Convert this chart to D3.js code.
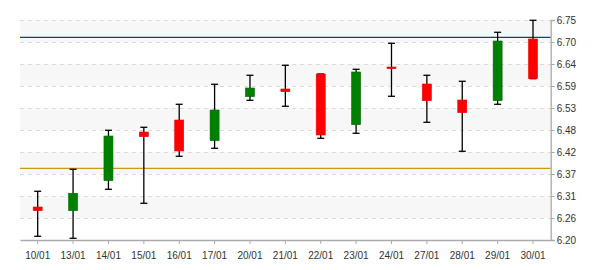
<!DOCTYPE html>
<html>
<head>
<meta charset="utf-8">
<script src="https://cdn.jsdelivr.net/npm/d3@7"></script>
<style>
html,body{margin:0;padding:0;background:#fff;}
svg{display:block;font-family:"Liberation Sans",Arial,sans-serif;}
</style>
</head>
<body>
<svg id="chart" width="600" height="270"></svg>
<script>
const dates = ["10/01","13/01","14/01","15/01","16/01","17/01","20/01","21/01","22/01","23/01","24/01","27/01","28/01","29/01","30/01"];
const openVals  = [6.2825,6.2733,6.3483,6.470,6.500,6.4483,6.5583,6.5775,6.615,6.4883,6.6325,6.590,6.550,6.5483,6.7025];
const highVals  = [6.3218,6.3768,6.4743,6.4818,6.5393,6.5893,6.6118,6.6368,6.615,6.6268,6.6918,6.6118,6.5968,6.7193,6.7493];
const lowVals   = [6.2093,6.2043,6.3268,6.2918,6.4093,6.4293,6.5493,6.5343,6.4543,6.4668,6.5593,6.4943,6.4218,6.5393,6.6033];
const closeVals = [6.2733,6.3168,6.4600,6.4583,6.4225,6.5250,6.5800,6.5708,6.4625,6.6200,6.6283,6.5483,6.5183,6.6975,6.6033];
const yTickValues = [6.20,6.255,6.31,6.365,6.42,6.475,6.53,6.585,6.64,6.695,6.75];
const yTickLabels = ["6.20","6.26","6.31","6.37","6.42","6.48","6.53","6.59","6.64","6.70","6.75"];
const refLines = [{value:6.7067,color:"#1a3b7c"},{value:6.3793,color:"#cc9a10"}];

const svg = d3.select("#chart");
const pLeft = 20, pRight = 550.7, pTop = 20, pBottom = 240;

const x = d3.scaleBand().domain(dates).range([pLeft, pRight]).padding(0);
const y = d3.scaleLinear().domain([6.20, 6.75]).range([pBottom, pTop]);

// alternating bands
const bands = svg.append("g");
for (let i = 0; i < yTickValues.length - 1; i++) {
  if (i % 2 === 1) {
    bands.append("rect")
      .attr("x", pLeft).attr("width", pRight - pLeft)
      .attr("y", y(yTickValues[i+1])).attr("height", y(yTickValues[i]) - y(yTickValues[i+1]))
      .attr("fill", "#f7f7f7");
  }
}

// grid lines
svg.append("g").selectAll("line").data(yTickValues.slice(1)).join("line")
  .attr("x1", pLeft).attr("x2", pRight)
  .attr("y1", d => Math.round(y(d)) + 0.5).attr("y2", d => Math.round(y(d)) + 0.5)
  .attr("stroke", "#dcdcdc").attr("stroke-width", 1).attr("stroke-dasharray", "4,4");

// reference lines
svg.append("g").selectAll("line").data(refLines).join("line")
  .attr("x1", pLeft).attr("x2", pRight)
  .attr("y1", d => y(d.value)).attr("y2", d => y(d.value))
  .attr("stroke", d => d.color).attr("stroke-width", 1.3);

// right axis
const yAxis = d3.axisRight(y).tickValues(yTickValues).tickFormat((d, i) => yTickLabels[i]).tickSize(4).tickPadding(2);
const gy = svg.append("g").attr("transform", `translate(${pRight},0)`).call(yAxis);
gy.select(".domain").attr("stroke", "#aaa").attr("stroke-width", 1.3);
gy.selectAll(".tick line").attr("stroke", "#aaa");
gy.selectAll(".tick text").attr("fill", "#333").attr("font-size", 10).attr("font-family", "Liberation Sans, Arial, sans-serif");

// bottom axis
const xAxis = d3.axisBottom(x).tickSize(4).tickSizeOuter(0).tickPadding(8);
const gx = svg.append("g").attr("transform", `translate(0,${pBottom})`).call(xAxis);
gx.select(".domain").attr("stroke", "#aaa").attr("stroke-width", 1.3);
gx.selectAll(".tick line").attr("stroke", "#aaa");
gx.selectAll(".tick text").attr("fill", "#333").attr("font-size", 10).attr("font-family", "Liberation Sans, Arial, sans-serif");

// candles
const data = dates.map((d, i) => ({date: d, open: openVals[i], high: highVals[i], low: lowVals[i], close: closeVals[i]}));
const bodyW = 9, capW = 7;
const g = svg.append("g");
const c = g.selectAll("g").data(data).join("g")
  .attr("transform", d => `translate(${x(d.date) + x.bandwidth() / 2},0)`);
c.append("line").attr("x1", 0).attr("x2", 0)
  .attr("y1", d => y(d.high)).attr("y2", d => y(d.low))
  .attr("stroke", "#000").attr("stroke-width", 1.3);
c.append("line").attr("x1", -capW/2).attr("x2", capW/2)
  .attr("y1", d => y(d.high)).attr("y2", d => y(d.high))
  .attr("stroke", "#000").attr("stroke-width", 1.3);
c.append("line").attr("x1", -capW/2).attr("x2", capW/2)
  .attr("y1", d => y(d.low)).attr("y2", d => y(d.low))
  .attr("stroke", "#000").attr("stroke-width", 1.3);
c.append("rect")
  .attr("x", -bodyW/2).attr("width", bodyW)
  .attr("y", d => y(Math.max(d.open, d.close)))
  .attr("height", d => Math.max(1, Math.abs(y(d.open) - y(d.close))))
  .attr("fill", d => d.close >= d.open ? "#008000" : "#ff0000")
  .attr("stroke", d => d.close >= d.open ? "#006a00" : "#ee0000")
  .attr("stroke-width", 0.6);
</script>
</body>
</html>
